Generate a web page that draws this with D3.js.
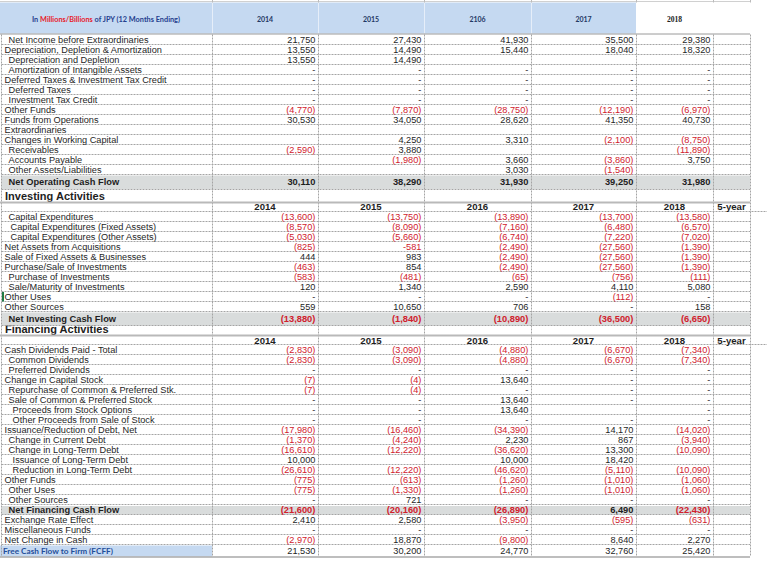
<!DOCTYPE html>
<html><head><meta charset="utf-8">
<script src="https://cdn.jsdelivr.net/npm/d3@7"></script>
<style>body{margin:0;background:#fff}svg{display:block}</style>
</head><body>
<svg id="c" width="767" height="562"></svg>
<script>
// ---------- DATA ----------
const headerYears = ["2014", "2015", "2106", "2017", "2018"];
const subHeaderYears = ["2014", "2015", "2016", "2017", "2018", "5-year"];

const opLabels = ["Net Income before Extraordinaries","Depreciation, Depletion & Amortization","Depreciation and Depletion","Amortization of Intangible Assets","Deferred Taxes & Investment Tax Credit","Deferred Taxes","Investment Tax Credit","Other Funds","Funds from Operations","Extraordinaries","Changes in Working Capital","Receivables","Accounts Payable","Other Assets/Liabilities"];
const opIndent = [1,0,1,1,0,1,1,0,0,0,0,1,1,1];
const opValues = [
  [21750, 27430, 41930, 35500, 29380],
  [13550, 14490, 15440, 18040, 18320],
  [13550, 14490, null, null, null],
  [0, 0, 0, 0, 0],
  [0, 0, 0, 0, 0],
  [0, 0, 0, 0, 0],
  [0, 0, 0, 0, 0],
  [-4770, -7870, -28750, -12190, -6970],
  [30530, 34050, 28620, 41350, 40730],
  [null, null, null, null, null],
  [null, 4250, 3310, -2100, -8750],
  [-2590, 3880, null, null, -11890],
  [null, -1980, 3660, -3860, 3750],
  [null, null, 3030, -1540, null]
];
const opTotalLabel = "Net Operating Cash Flow";
const opTotal = [30110, 38290, 31930, 39250, 31980];

const invTitle = "Investing Activities";
const invLabels = ["Capital Expenditures","Capital Expenditures (Fixed Assets)","Capital Expenditures (Other Assets)","Net Assets from Acquisitions","Sale of Fixed Assets & Businesses","Purchase/Sale of Investments","Purchase of Investments","Sale/Maturity of Investments","Other Uses","Other Sources"];
const invIndent = [1,1.5,1.5,0,0,0,1,1,0,0];
const invValues = [
  [-13600, -13750, -13890, -13700, -13580],
  [-8570, -8090, -7160, -6480, -6570],
  [-5030, -5660, -6740, -7220, -7020],
  [-825, -581, -2490, -27560, -1390],
  [444, 983, -2490, -27560, -1390],
  [-463, 854, -2490, -27560, -1390],
  [-583, -481, -65, -756, -111],
  [120, 1340, 2590, 4110, 5080],
  [0, 0, 0, -112, 0],
  [559, 10650, 706, 0, 158]
];
const invTotalLabel = "Net Investing Cash Flow";
const invTotal = [-13880, -1840, -10890, -36500, -6650];
// cells written with a plain minus sign instead of parentheses: [row, column]
const plainMinusCells = [[3, 1]];

const finTitle = "Financing Activities";
const finLabels = ["Cash Dividends Paid - Total","Common Dividends","Preferred Dividends","Change in Capital Stock","Repurchase of Common & Preferred Stk.","Sale of Common & Preferred Stock","Proceeds from Stock Options","Other Proceeds from Sale of Stock","Issuance/Reduction of Debt, Net","Change in Current Debt","Change in Long-Term Debt","Issuance of Long-Term Debt","Reduction in Long-Term Debt","Other Funds","Other Uses","Other Sources"];
const finIndent = [0,1,1,0,1,1,2,2,0,1,1,2,2,0,1,1];
const finValues = [
  [-2830, -3090, -4880, -6670, -7340],
  [-2830, -3090, -4880, -6670, -7340],
  [0, 0, 0, 0, 0],
  [-7, -4, 13640, 0, 0],
  [-7, -4, 0, 0, 0],
  [0, 0, 13640, 0, 0],
  [0, 0, 13640, null, 0],
  [0, 0, 0, 0, 0],
  [-17980, -16460, -34390, 14170, -14020],
  [-1370, -4240, 2230, 867, -3940],
  [-16610, -12220, -36620, 13300, -10090],
  [10000, null, 10000, 18420, null],
  [-26610, -12220, -46620, -5110, -10090],
  [-775, -613, -1260, -1010, -1060],
  [-775, -1330, -1260, -1010, -1060],
  [0, 721, 0, 0, 0]
];
const finTotalLabel = "Net Financing Cash Flow";
const finTotal = [-21600, -20160, -26890, 6490, -22430];
const tailLabels = ["Exchange Rate Effect","Miscellaneous Funds","Net Change in Cash"];
const tailValues = [
  [2410, 2580, -3950, -595, -631],
  [0, 0, 0, 0, 0],
  [-2970, 18870, -9800, 8640, 2270]
];
const fcffLabel = "Free Cash Flow to Firm (FCFF)";
const fcffValues = [21530, 30200, 24770, 32760, 25420];

// ---------- LAYOUT ----------
const svg = d3.select("#c");
const x = d3.scaleLinear().domain([0,1,2,3,4,5,6]).range([212, 318, 424, 531, 636, 713, 750]);
const RIGHT = 750;
const RED = "#d0202c", INK = "#1e1e1e";
const FONT = "'Liberation Sans', Arial, sans-serif";
const fmt = d3.format(",");
function cellText(v, plain) {
  if (v === null || v === undefined) return "";
  if (v === 0) return "-";
  if (v < 0) return plain ? "-" + fmt(-v) : "(" + fmt(-v) + ")";
  return fmt(v);
}

const rows = [];
let y = 34.5;
function push(r, h) { r.y0 = y; r.y1 = y + h; rows.push(r); y += h; }
opLabels.forEach((l, i) => push({type: "row", label: l, indent: opIndent[i], values: opValues[i]}, 10));
push({type: "total", label: opTotalLabel, indent: 1, values: opTotal}, 15);
push({type: "title", label: invTitle}, 12.5);
push({type: "years"}, 9.5);
invLabels.forEach((l, i) => push({type: "row", label: l, indent: invIndent[i], values: invValues[i], plain: plainMinusCells.filter(c => c[0] === i).map(c => c[1])}, 10));
push({type: "total", label: invTotalLabel, indent: 1, values: invTotal}, 14.5);
push({type: "title", label: finTitle}, 9);
push({type: "years"}, 10);
finLabels.forEach((l, i) => push({type: "row", label: l, indent: finIndent[i], values: finValues[i]}, 10));
push({type: "total", label: finTotalLabel, indent: 1, values: finTotal}, 10);
tailLabels.forEach((l, i) => push({type: "row", label: l, indent: 0, values: tailValues[i]}, 10));
push({type: "fcff", label: fcffLabel, values: fcffValues}, 11.5);
const BOTTOM = y;

// ---------- HEADER ----------
svg.append("line").attr("x1", 0).attr("x2", RIGHT).attr("y1", 1.5).attr("y2", 1.5).attr("stroke", "#d0d0d0");
svg.append("rect").attr("x", 0).attr("y", 2.5).attr("width", x(4)).attr("height", 31).attr("fill", "#c5d9f1");
[0,1,2,3].forEach(i => svg.append("line").attr("x1", x(i) + 0.5).attr("x2", x(i) + 0.5).attr("y1", 2.5).attr("y2", 33.5).attr("stroke", "#e6eef9"));
[0,1,2,3,4,5,6].forEach(i => svg.append("line").attr("x1", x(i) + 0.5).attr("x2", x(i) + 0.5).attr("y1", 0).attr("y2", 2.5).attr("stroke", "#bbb"));
svg.append("line").attr("x1", 0).attr("x2", RIGHT).attr("y1", 34).attr("y2", 34).attr("stroke", "#9a9a9a").attr("stroke-width", 1);

const ttl = svg.append("text").attr("x", 106).attr("y", 21.6).attr("text-anchor", "middle")
  .attr("font-family", "Lato, 'Open Sans', sans-serif").attr("font-weight", "bold").attr("font-size", 7.4)
  .attr("fill", "#24408e").attr("textLength", 148).attr("lengthAdjust", "spacingAndGlyphs");
ttl.append("tspan").text("In ");
ttl.append("tspan").attr("fill", "#e8202a").text("Millions/Billions");
ttl.append("tspan").text(" of JPY (12 Months Ending)");

headerYears.forEach((yr, i) => {
  const cx = (x(i) + x(i + 1)) / 2;
  const t = svg.append("text").attr("x", cx).attr("y", 21.6).attr("text-anchor", "middle").text(yr);
  if (i < 4) t.attr("font-family", "Lato, sans-serif").attr("font-weight", "bold").attr("font-size", 7).attr("fill", "#1f3864");
  else t.attr("font-family", "'Liberation Serif', serif").attr("font-weight", "bold").attr("font-size", 7.6).attr("fill", "#222");
});

// ---------- BACKGROUNDS ----------
const g = svg.append("g");
// section titles (drawn before bands so a band can overlap them)
rows.filter(r => r.type === "title").forEach(r => {
  g.append("text").attr("x", 5).attr("y", r.y1 - 2).attr("font-family", FONT).attr("font-weight", "bold")
    .attr("font-size", 11).attr("fill", INK).text(r.label);
});
rows.filter(r => r.type === "total").forEach(r => {
  g.append("rect").attr("x", 1.5).attr("y", r.y0 + 1).attr("width", RIGHT - 1.5).attr("height", r.y1 - r.y0 - 1.5).attr("fill", "#d9dcdc");
});
rows.filter(r => r.type === "fcff").forEach(r => {
  g.append("rect").attr("x", 0).attr("y", r.y0 + 0.5).attr("width", x(0)).attr("height", r.y1 - r.y0 - 0.5).attr("fill", "#c5d9f1");
});

// ---------- GRID ----------
const grid = svg.append("g").attr("stroke", "#a4a4a4").attr("stroke-width", 1).attr("stroke-dasharray", "2,1");
rows.forEach(r => {
  if (r.type === "row" || r.type === "total") {
    grid.append("line").attr("x1", 1.5).attr("x2", RIGHT).attr("y1", Math.round(r.y1) - 0.5).attr("y2", Math.round(r.y1) - 0.5);
  }
  if (r.type === "years") {
    svg.append("line").attr("x1", 0).attr("x2", RIGHT).attr("y1", r.y0 + 0.5).attr("y2", r.y0 + 0.5).attr("stroke", "#b9b9b9").attr("stroke-width", 2);
    grid.append("line").attr("x1", 1.5).attr("x2", 767).attr("y1", Math.round(r.y1) - 0.5).attr("y2", Math.round(r.y1) - 0.5);
  }
});
[1.5].concat([0,1,2,3,4,5,6].map(i => x(i) + 0.5)).forEach(px => {
  grid.append("line").attr("x1", px).attr("x2", px).attr("y1", 34.5).attr("y2", BOTTOM);
});
svg.append("line").attr("x1", 0).attr("x2", RIGHT).attr("y1", BOTTOM + 0.5).attr("y2", BOTTOM + 0.5).attr("stroke", "#a8a8a8").attr("stroke-width", 1.5);
// excel selection marker
const ou = rows.find(r => r.label === "Other Uses");
svg.append("rect").attr("x", 2).attr("y", ou.y0 + 0.5).attr("width", 2).attr("height", 9.5).attr("fill", "#1f7a45");

// ---------- TEXT ----------
const T = svg.append("g").attr("font-family", FONT).attr("font-size", 9.2).attr("fill", INK);
rows.forEach(r => {
  const base = (r.y0 + r.y1) / 2 + 3.4;
  if (r.type === "row" || r.type === "total") {
    T.append("text").attr("x", 4.6 + 4 * r.indent).attr("y", base)
      .attr("font-weight", r.type === "total" ? "bold" : null)
      .attr("font-size", r.type === "total" ? 9.3 : null).text(r.label);
    r.values.forEach((v, i) => {
      const plain = r.plain && r.plain.includes(i);
      T.append("text").attr("x", x(i + 1) - 2.6).attr("y", base).attr("text-anchor", "end")
        .attr("fill", v < 0 ? RED : INK)
        .attr("font-weight", r.type === "total" ? "bold" : null)
        .attr("font-size", r.type === "total" ? 9.3 : null)
        .text(cellText(v, plain));
    });
  } else if (r.type === "years") {
    subHeaderYears.forEach((yr, i) => {
      T.append("text").attr("x", (x(i) + x(i + 1)) / 2).attr("y", r.y1 - 1.2).attr("text-anchor", "middle")
        .attr("font-weight", "bold").attr("font-size", 9.6).text(yr);
    });
  } else if (r.type === "fcff") {
    T.append("text").attr("x", 3).attr("y", base - 0.2).attr("font-family", "Lato, sans-serif")
      .attr("font-weight", "bold").attr("font-size", 7.2).attr("fill", "#1f4e9a")
      .attr("textLength", 110).attr("lengthAdjust", "spacingAndGlyphs").text(r.label);
    r.values.forEach((v, i) => {
      T.append("text").attr("x", x(i + 1) - 2.6).attr("y", base).attr("text-anchor", "end")
        .attr("fill", v < 0 ? RED : INK).text(cellText(v));
    });
  }
});
</script>
</body></html>
